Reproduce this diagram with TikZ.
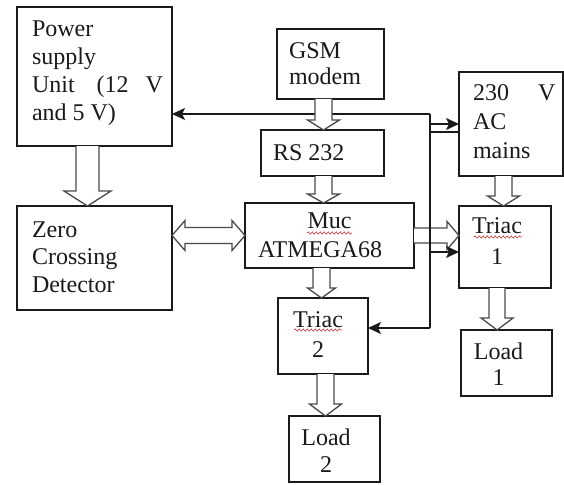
\documentclass[tikz,border=0pt]{standalone}
\usepackage{fontspec}
\setmainfont{Liberation Serif}
\usetikzlibrary{arrows.meta,calc,decorations.pathmorphing}
\definecolor{ink}{HTML}{1A1A1A}
\definecolor{hgray}{HTML}{4A4A4A}
\definecolor{squig}{HTML}{D03030}
% vertical hollow arrow: start, target, shaft half width, head half width, head length
\newcommand{\hollowV}[5]{\path[hollow] let \p1=#1, \p2=#2 in
  (\x1-#3pt,\y1) -- (\x1-#3pt,\y2+#5pt) -- (\x1-#4pt,\y2+#5pt) -- (\x1,\y2)
  -- (\x1+#4pt,\y2+#5pt) -- (\x1+#3pt,\y2+#5pt) -- (\x1+#3pt,\y1);}
% horizontal hollow arrow pointing right
\newcommand{\hollowR}[5]{\path[hollow] let \p1=#1, \p2=#2 in
  (\x1,\y1+#3pt) -- (\x2-#5pt,\y1+#3pt) -- (\x2-#5pt,\y1+#4pt) -- (\x2,\y1)
  -- (\x2-#5pt,\y1-#4pt) -- (\x2-#5pt,\y1-#3pt) -- (\x1,\y1-#3pt);}
% horizontal double-headed hollow arrow
\newcommand{\hollowLR}[5]{\path[hollow] let \p1=#1, \p2=#2 in
  (\x1,\y1) -- (\x1+#5pt,\y1+#4pt) -- (\x1+#5pt,\y1+#3pt) -- (\x2-#5pt,\y1+#3pt)
  -- (\x2-#5pt,\y1+#4pt) -- (\x2,\y1) -- (\x2-#5pt,\y1-#4pt) -- (\x2-#5pt,\y1-#3pt)
  -- (\x1+#5pt,\y1-#3pt) -- (\x1+#5pt,\y1-#4pt) -- cycle;}
\begin{document}
\begin{tikzpicture}[x=1pt,y=-1pt,
  box/.style={draw=ink, line width=1.5pt, inner sep=0pt, outer sep=0pt, fill=white},
  txt/.style={inner sep=0pt, outer sep=0pt, text=ink},
  hollow/.style={draw=hgray, fill=white, line width=1.3pt, line join=miter},
  bus/.style={draw=ink, line width=1.5pt},
  arr/.style={bus, -{Stealth[length=13pt,width=12pt,inset=3pt]}},
  squiggle/.style={draw=squig, line width=0.6pt, decorate,
    decoration={snake, amplitude=1.1pt, segment length=4pt}}]
\useasboundingbox (0,0) rectangle (564,484);

% boxes
\node[box, minimum width=155pt, minimum height=139pt] (ps)   at (94.5,76.5) {};
\node[box, minimum width=155pt, minimum height=104pt] (zero) at (94.5,258) {};
\node[box, minimum width=107pt, minimum height=70pt]  (gsm)  at (330.5,64) {};
\node[box, minimum width=123pt, minimum height=46pt]  (rs)   at (322.5,153) {};
\node[box, minimum width=169pt, minimum height=65pt]  (muc)  at (329.5,235.5) {};
\node[box, minimum width=90pt,  minimum height=76pt]  (t2)   at (323,336) {};
\node[box, minimum width=91pt,  minimum height=66pt]  (l2)   at (334.5,449) {};
\node[box, minimum width=104pt, minimum height=104pt] (ac)   at (511,124) {};
\node[box, minimum width=92pt,  minimum height=82pt]  (t1)   at (505,247) {};
\node[box, minimum width=91pt,  minimum height=66pt]  (l1)   at (506.5,363) {};

% hollow arrow crossed by the bus (bus drawn over it)
\hollowR{(muc.east)}{(t1.west)}{7.5}{14}{12}

% control bus with black arrows
\coordinate (busTop) at (430,114);
\coordinate (busBot) at (430,328);
\coordinate (tapAC)  at (430,124);
\coordinate (tapACb) at (430,132);
\coordinate (tapT1)  at (430,252);
\draw[bus] (busTop) -- (busBot);
\draw[arr] (busTop) -- (busTop -| ps.east);
\draw[arr] (busBot) -- (busBot -| t2.east);
\draw[arr] (tapAC) -- (tapAC -| ac.west);
\draw[bus] (tapACb) -- (tapACb -| ac.west);
\draw[arr] (tapT1) -- (tapT1 -| t1.west);

% hollow arrows
\hollowV{($(ps.south)+(-7,0)$)}{(zero.north)}{11.5}{23.5}{15}
\hollowV{($(gsm.south)+(-7,0)$)}{(rs.north)}{8.5}{16}{10}
\hollowV{($(rs.south)+(1,0)$)}{(muc.north)}{8.5}{16}{9}
\hollowV{($(muc.south)+(-8,0)$)}{(t2.north)}{8.5}{14}{10}
\hollowV{($(t2.south)+(2.5,0)$)}{(l2.north)}{8.5}{16}{12}
\hollowV{($(ac.south)+(-7.5,0)$)}{(t1.north)}{8.5}{16}{10}
\hollowV{($(t1.south)+(-8,0)$)}{(l1.north)}{8}{16}{12}
\hollowLR{(zero.east |- muc.west)}{(muc.west)}{8}{15}{13}

% texts
\node[txt, anchor=north west, align=left, font=\fontsize{24}{27.7}\selectfont] (pst) at (32,20)
  {\rule{0pt}{17pt}Power\\supply\\Unit\hspace{22pt}(12\hspace{17pt}V\\and 5 V)};
\node[txt, anchor=north west, align=left, font=\fontsize{24}{27.5}\selectfont] (zerot) at (32,220)
  {\rule{0pt}{17pt}Zero\\Crossing\\Detector};
\node[txt, anchor=north west, align=left, font=\fontsize{24}{26}\selectfont] (gsmt) at (289,42)
  {\rule{0pt}{17pt}GSM\\modem};
\node[txt, anchor=north west, align=left, font=\fontsize{24}{26}\selectfont] (rst) at (273,143)
  {\rule{0pt}{17pt}RS 232};
\node[txt, anchor=north west, align=left, font=\fontsize{24}{29}\selectfont] (muct) at (258,211)
  {\rule{0pt}{17pt}\hspace*{49.5pt}Muc\\ATMEGA68};
\node[txt, anchor=north, align=center, font=\fontsize{24}{30}\selectfont] (t2t) at (318,310)
  {\rule{0pt}{17pt}Triac\\2};
\node[txt, anchor=north, align=center, font=\fontsize{24}{27}\selectfont] (l2t) at (326,428)
  {\rule{0pt}{17pt}Load\\2};
\node[txt, anchor=north west, align=left, font=\fontsize{24}{29}\selectfont] (act) at (473,83)
  {\rule{0pt}{17pt}230\hspace{29pt}V\\AC\\mains};
\node[txt, anchor=north, align=center, font=\fontsize{24}{31}\selectfont] (t1t) at (497,216)
  {\rule{0pt}{17pt}Triac\\1};
\node[txt, anchor=north, align=center, font=\fontsize{24}{26}\selectfont] (l1t) at (498.5,342)
  {\rule{0pt}{17pt}Load\\1};

% spell-check underlines
\draw[squiggle] (307,233) -- (352,233);
\draw[squiggle] (294,330) -- (342,330);
\draw[squiggle] (474,237) -- (522,237);
\end{tikzpicture}
\end{document}
